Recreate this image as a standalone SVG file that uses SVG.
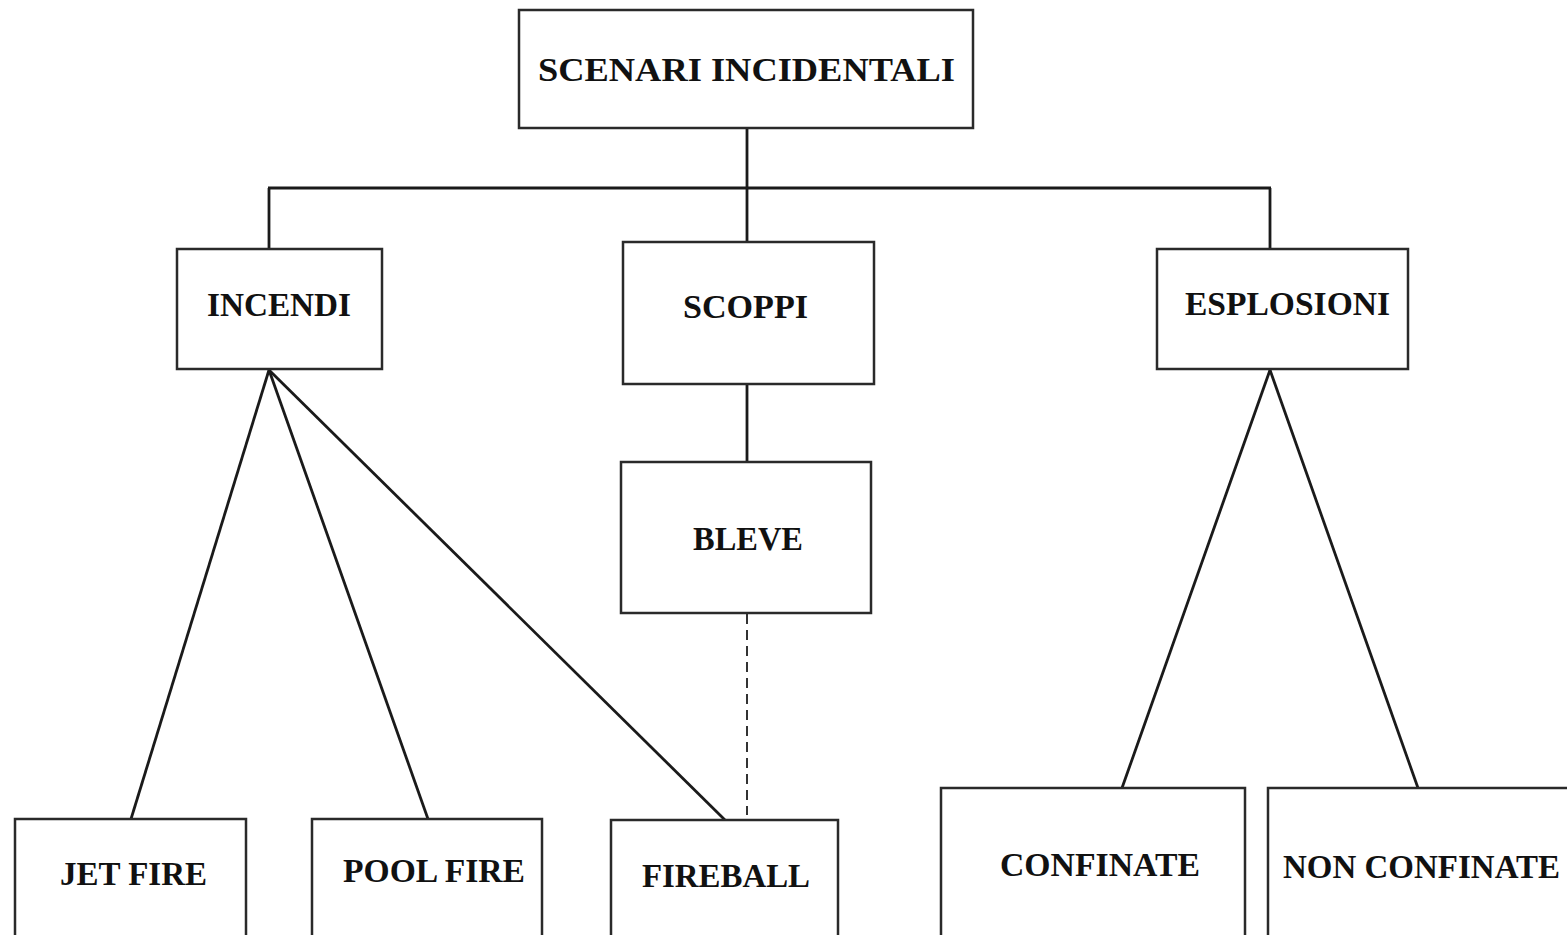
<svg xmlns="http://www.w3.org/2000/svg" width="1567" height="935" viewBox="0 0 1567 935">
<style>
.box{fill:#fff;stroke:#2a2a2a;stroke-width:2.5}
.lbl{font-family:"Liberation Serif","DejaVu Serif",serif;font-weight:bold;font-size:34px;fill:#111;text-anchor:start}
.ln{stroke:#1a1a1a;stroke-width:2.8;fill:none}
.dash{stroke:#333;stroke-width:2;stroke-dasharray:10 6;fill:none}
</style>
<rect width="1567" height="935" fill="#fff"/>
<g id="connectors">
<line class="ln" x1="747" y1="128" x2="747" y2="242"/>
<line class="ln" x1="268" y1="188" x2="1271" y2="188"/>
<line class="ln" x1="269" y1="188" x2="269" y2="249"/>
<line class="ln" x1="1270" y1="188" x2="1270" y2="249"/>
<line class="ln" x1="747" y1="384" x2="747" y2="462"/>
<line class="ln" x1="269" y1="370" x2="131" y2="819"/>
<line class="ln" x1="269" y1="370" x2="428" y2="819"/>
<line class="ln" x1="269" y1="370" x2="725" y2="820"/>
<line class="dash" x1="747" y1="614" x2="747" y2="815"/>
<line class="ln" x1="1270" y1="370" x2="1122" y2="788"/>
<line class="ln" x1="1270" y1="370" x2="1418" y2="788"/>
</g>
<g id="scenari"><rect class="box" x="519" y="10" width="454" height="118"/><text class="lbl" x="538" y="81" textLength="417" lengthAdjust="spacingAndGlyphs">SCENARI INCIDENTALI</text></g>
<g id="incendi"><rect class="box" x="177" y="249" width="205" height="120"/><text class="lbl" x="207" y="316" textLength="144" lengthAdjust="spacingAndGlyphs">INCENDI</text></g>
<g id="scoppi"><rect class="box" x="623" y="242" width="251" height="142"/><text class="lbl" x="683" y="318" textLength="125" lengthAdjust="spacingAndGlyphs">SCOPPI</text></g>
<g id="esplosioni"><rect class="box" x="1157" y="249" width="251" height="120"/><text class="lbl" x="1185" y="315" textLength="205" lengthAdjust="spacingAndGlyphs">ESPLOSIONI</text></g>
<g id="bleve"><rect class="box" x="621" y="462" width="250" height="151"/><text class="lbl" x="693" y="550" textLength="110" lengthAdjust="spacingAndGlyphs">BLEVE</text></g>
<g id="jetfire"><rect class="box" x="15" y="819" width="231" height="140"/><text class="lbl" x="60" y="885" textLength="147" lengthAdjust="spacingAndGlyphs">JET FIRE</text></g>
<g id="poolfire"><rect class="box" x="312" y="819" width="230" height="140"/><text class="lbl" x="343" y="882" textLength="182" lengthAdjust="spacingAndGlyphs">POOL FIRE</text></g>
<g id="fireball"><rect class="box" x="611" y="820" width="227" height="140"/><text class="lbl" x="642" y="887" textLength="168" lengthAdjust="spacingAndGlyphs">FIREBALL</text></g>
<g id="confinate"><rect class="box" x="941" y="788" width="304" height="170"/><text class="lbl" x="1000" y="876" textLength="200" lengthAdjust="spacingAndGlyphs">CONFINATE</text></g>
<g id="nonconfinate"><rect class="box" x="1268" y="788" width="320" height="170"/><text class="lbl" x="1283" y="878" textLength="277" lengthAdjust="spacingAndGlyphs">NON CONFINATE</text></g>
</svg>
